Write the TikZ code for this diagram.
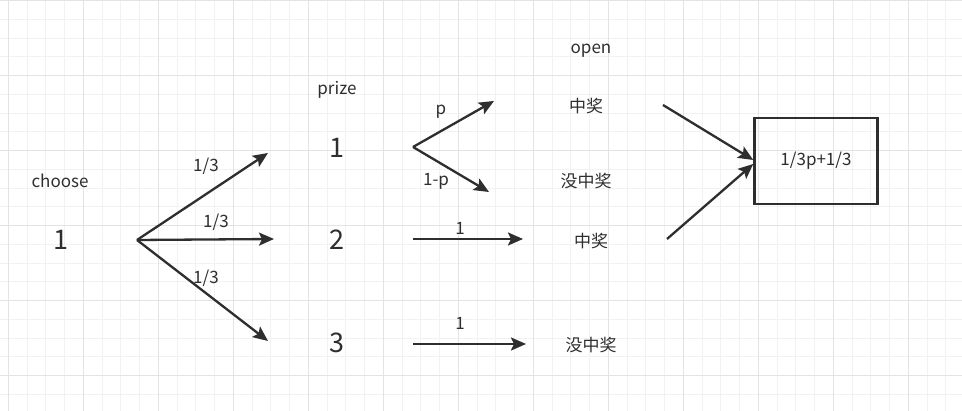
\documentclass[tikz,border=0pt]{standalone}
\usepackage{fontspec}
\setmainfont{Noto Sans CJK SC}
\usetikzlibrary{arrows.meta}
\definecolor{ink}{HTML}{2E2E2E}
\definecolor{gridminor}{HTML}{F2F2F2}
\definecolor{gridmajor}{HTML}{E3E3E3}
\tikzset{
  arr/.style={ink, line width=2.3pt, -{Stealth[length=15pt,width=13pt,inset=3pt]}},
  lbl/.style={ink, inner sep=0pt, font=\fontsize{17}{17}\selectfont},
  big/.style={ink, inner sep=0pt, font=\fontsize{27}{27}\selectfont},
  resbox/.style={draw=ink, line width=2.5pt, minimum width=123pt, minimum height=86pt, inner sep=0pt, text=ink, font=\fontsize{17}{17}\selectfont}
}
\begin{document}
\begin{tikzpicture}[x=1pt,y=-1pt]
\useasboundingbox (0,0) rectangle (962,411);
\fill [white] (0,0) rectangle (962,411);
\foreach \i in {0,...,50} \draw [gridminor, line width=1pt] ({8.3+18.75*\i},0) -- ({8.3+18.75*\i},411);
\foreach \i in {0,...,21} \draw [gridminor, line width=1pt] (0,{0.7+18.75*\i}) -- (962,{0.7+18.75*\i});
\foreach \i in {0,...,12} \draw [gridmajor, line width=1.2pt] ({8.3+75*\i},0) -- ({8.3+75*\i},411);
\foreach \i in {0,...,5} \draw [gridmajor, line width=1.2pt] (0,{0.7+75*\i}) -- (962,{0.7+75*\i});

\node [lbl] (choose) at (60,181) {choose};
\node [big] (c1) at (61,240) {1};
\node [lbl] (prize) at (337,90) {prize};
\node [big] (p1) at (337,148) {1};
\node [big] (p2) at (337,240) {2};
\node [big] (p3) at (337,343) {3};
\node [lbl] (open) at (591,51) {open};
\node [lbl] (o1) at (586,106) {中奖};
\node [lbl] (o2) at (586,181) {没中奖};
\node [lbl] (o3) at (591,241) {中奖};
\node [lbl] (o4) at (591,345) {没中奖};
\node [resbox] (res) at (816,161) {1/3p+1/3};

\coordinate (fan) at (137,240);
\coordinate (fanA) at (268,153);
\coordinate (fanB) at (274,239);
\coordinate (fanC) at (268,341);
\draw [arr] (fan) -- (fanA);
\draw [arr] (fan) -- (fanB);
\draw [arr] (fan) -- (fanC);
\node [lbl] (w1) at (206,166) {1/3};
\node [lbl] (w2) at (216,222) {1/3};
\node [lbl] (w3) at (206,278) {1/3};

\coordinate (split) at (413,147);
\coordinate (splitA) at (494,101);
\coordinate (splitB) at (489,192);
\draw [arr] (split) -- (splitA);
\draw [arr] (split) -- (splitB);
\node [lbl] (wp) at (441,112) {p};
\node [lbl] (wq) at (436,181) {1-p};

\coordinate (two) at (413,239);
\coordinate (twoE) at (523,239);
\draw [arr] (two) -- (twoE);
\node [lbl] (w4) at (460,228) {1};
\coordinate (three) at (413,344);
\coordinate (threeE) at (526,344);
\draw [arr] (three) -- (threeE);
\node [lbl] (w5) at (460,323) {1};

\coordinate (winA) at (663,105);
\coordinate (winB) at (667,239);
\draw [arr] (winA) -- ([yshift=1pt]res.west);
\draw [arr] (winB) -- ([yshift=-3pt]res.west);
\end{tikzpicture}
\end{document}
